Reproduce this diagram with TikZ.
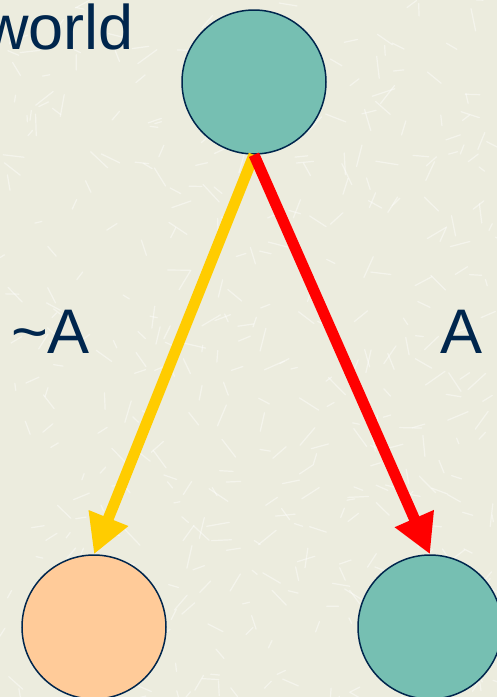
\documentclass[tikz,border=0pt]{standalone}
\usepackage{fontspec}
\setmainfont{Liberation Sans}
\usepackage{xcolor}
\usetikzlibrary{arrows.meta}

\definecolor{paper}{RGB}{236,236,222}
\definecolor{ink}{RGB}{0,38,77}
\definecolor{worldteal}{RGB}{118,191,178}
\definecolor{peach}{RGB}{255,203,153}
\definecolor{gold}{RGB}{255,204,0}

\tikzset{
  state/.style={circle,draw=ink,line width=1.5pt,minimum size=144pt,inner sep=0pt},
  branch/.style={line width=11pt,-{Triangle[length=39pt,width=40pt]}},
  lbl/.style={text=ink,font=\fontsize{63}{63}\selectfont,inner sep=0pt}
}

\begin{document}
\begin{tikzpicture}[x=1pt,y=-1pt]
  \useasboundingbox (0,0) rectangle (497,697);
  \clip (0,0) rectangle (497,697);
  \fill[paper] (0,0) rectangle (497,697);
  % paper texture
  \pgfmathsetseed{4711}
  \foreach \i in {1,...,450}{
    \pgfmathsetmacro\xa{rnd*497}
    \pgfmathsetmacro\ya{rnd*697}
    \pgfmathsetmacro\ang{rnd*180}
    \pgfmathsetmacro\len{6+rnd*18}
    \draw[white,opacity=0.45,line width=1.2pt,line cap=round] (\xa,\ya) -- ++(\ang:\len);
  }

  \node[state,fill=worldteal] (top) at (254,82) {};
  \node[state,fill=peach] (left) at (94,627) {};
  \node[state,fill=worldteal] (right) at (430,627) {};

  \node[lbl,anchor=base east] (world) at (134,49) {world};
  \node[lbl,anchor=base west] (nota) at (11,353) {\textasciitilde A};
  \node[lbl,anchor=base] (a) at (462,353) {A};

  \draw[branch,gold] (top.south) -- (left.north);
  \draw[branch,red] (top.south) -- (right.north);
\end{tikzpicture}
\end{document}
